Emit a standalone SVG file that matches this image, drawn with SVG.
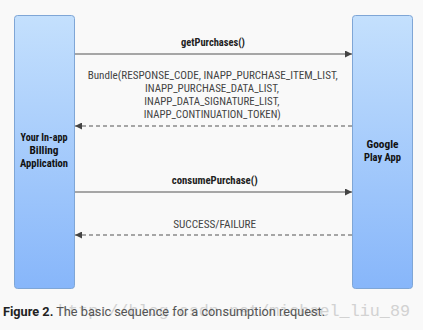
<svg xmlns="http://www.w3.org/2000/svg" width="423" height="330" viewBox="0 0 423 330">
<defs>
<linearGradient id="boxg" x1="0" y1="0" x2="0" y2="1">
<stop offset="0" stop-color="#c4e0fd"/>
<stop offset="1" stop-color="#87b6fa"/>
</linearGradient>
<marker id="ah" viewBox="0 0 10 10" refX="10" refY="5" markerWidth="9" markerHeight="7" markerUnits="userSpaceOnUse" orient="auto">
<path d="M0,0 L10,5 L0,10 z" fill="#444"/>
</marker>
<style>
.box{fill:url(#boxg);stroke:#7fa6d6;stroke-width:1}
.nt{font-family:"Liberation Sans Narrow","Roboto Condensed","Liberation Sans",Arial,sans-serif;font-weight:bold;font-size:11.5px;fill:#111;text-anchor:middle}
.lbl{font-family:"Liberation Sans Narrow","Roboto Condensed","Liberation Sans",Arial,sans-serif;font-size:11.5px;fill:#444;text-anchor:middle}
.lblb{font-weight:bold;fill:#222}
.ln{stroke:#555;stroke-width:1.2;fill:none}
.dash{stroke-dasharray:4,3}
</style>
</defs>
<rect width="423" height="330" fill="#f9f9f9"/>
<g id="app">
<rect class="box" x="14.5" y="15.5" width="60" height="273" rx="3"/>
<text class="nt" x="44" y="140.5" textLength="47" lengthAdjust="spacingAndGlyphs">Your In-app</text>
<text class="nt" x="44" y="153.5" textLength="29" lengthAdjust="spacingAndGlyphs">Billing</text>
<text class="nt" x="44" y="166.5" textLength="48" lengthAdjust="spacingAndGlyphs">Application</text>
</g>
<g id="play">
<rect class="box" x="352.5" y="15.5" width="60" height="273" rx="3"/>
<text class="nt" x="382.5" y="147.5" textLength="32" lengthAdjust="spacingAndGlyphs">Google</text>
<text class="nt" x="382.5" y="160.5" textLength="37" lengthAdjust="spacingAndGlyphs">Play App</text>
</g>
<g id="connectors">
<line class="ln" x1="75" y1="54" x2="352" y2="54" marker-end="url(#ah)"/>
<text class="lbl lblb" x="213" y="46" textLength="64" lengthAdjust="spacingAndGlyphs">getPurchases()</text>
<line class="ln dash" x1="352" y1="126" x2="75" y2="126" marker-end="url(#ah)"/>
<text class="lbl" x="212.7" y="79" textLength="250" lengthAdjust="spacingAndGlyphs">Bundle(RESPONSE_CODE, INAPP_PURCHASE_ITEM_LIST,</text>
<text class="lbl" x="212" y="92" textLength="134" lengthAdjust="spacingAndGlyphs">INAPP_PURCHASE_DATA_LIST,</text>
<text class="lbl" x="211.8" y="105" textLength="135" lengthAdjust="spacingAndGlyphs">INAPP_DATA_SIGNATURE_LIST,</text>
<text class="lbl" x="212.3" y="118" textLength="137" lengthAdjust="spacingAndGlyphs">INAPP_CONTINUATION_TOKEN)</text>
<line class="ln" x1="75" y1="192" x2="352" y2="192" marker-end="url(#ah)"/>
<text class="lbl lblb" x="214.7" y="184" textLength="86" lengthAdjust="spacingAndGlyphs">consumePurchase()</text>
<line class="ln dash" x1="352" y1="235" x2="75" y2="235" marker-end="url(#ah)"/>
<text class="lbl" x="214.7" y="227.5" textLength="83" lengthAdjust="spacingAndGlyphs">SUCCESS/FAILURE</text>
</g>
<text x="58" y="316" font-family="'Liberation Mono','DejaVu Sans Mono',monospace" font-size="17" fill="#d2d2d2" textLength="352" lengthAdjust="spacingAndGlyphs">http://blog.csdn.net/michael_liu_89</text>
<text x="3" y="316" font-family="Roboto,'Liberation Sans',Arial,sans-serif" font-size="13.5" fill="#555" textLength="322" lengthAdjust="spacingAndGlyphs"><tspan font-weight="bold" fill="#222">Figure 2.</tspan> The basic sequence for a consumption request.</text>
</svg>
